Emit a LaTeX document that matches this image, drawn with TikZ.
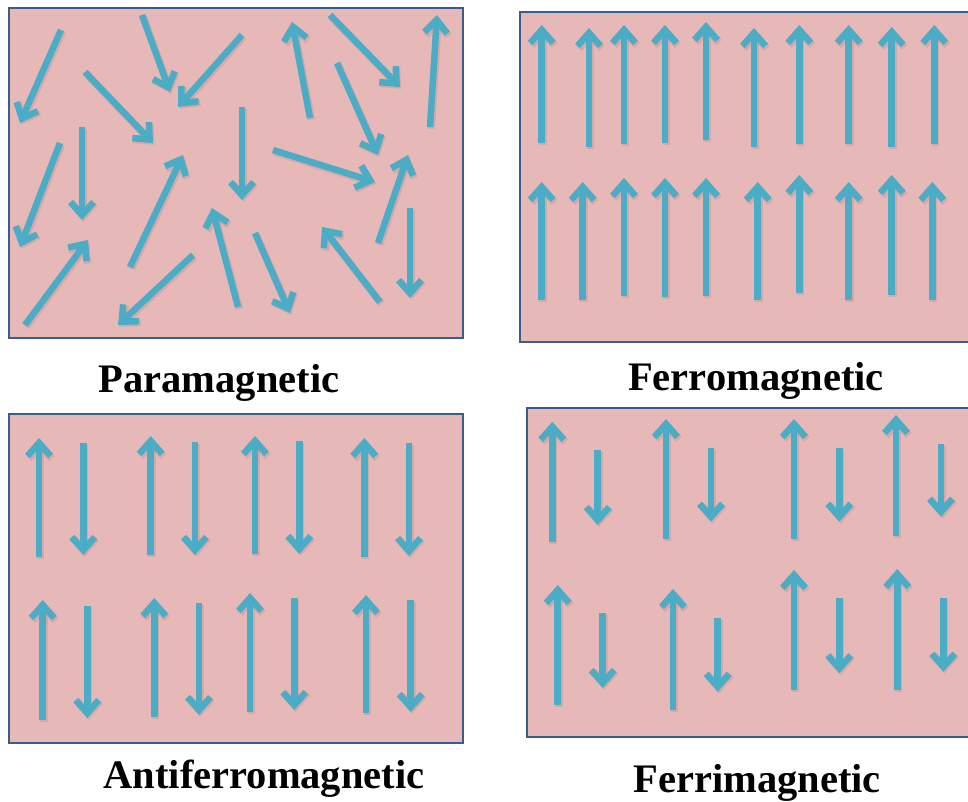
\documentclass[tikz,border=0pt]{standalone}
\usepackage{fontspec}
\setmainfont{Liberation Serif}
\usetikzlibrary{arrows.meta}
\definecolor{panelfill}{RGB}{230,185,184}
\definecolor{panelline}{RGB}{56,93,138}
\definecolor{spinblue}{RGB}{75,172,198}
\definecolor{spinshade}{RGB}{196,140,140}
\tikzset{
  panel/.style={fill=panelfill, draw=panelline, line width=2.6pt},
  spin/.style={draw=spinblue, line width=6.5pt,
    -{Straight Barb[length=13pt, width=23pt, line width=6.5pt]}},
  spinshadow/.style={draw=spinshade, opacity=0.4, line width=7.5pt,
    -{Straight Barb[length=13pt, width=23pt, line width=7.5pt]}},
  caption/.style={anchor=base, font=\fontsize{40.5}{48}\selectfont\bfseries, inner sep=0pt}
}
\newcommand\spinarrow[4]{%
  \draw[spinshadow] ([shift={(1.3,1.8)}]#1,#2) -- ([shift={(1.3,1.8)}]#3,#4);
  \draw[spin] (#1,#2) -- (#3,#4);}
\begin{document}
\begin{tikzpicture}[x=1pt, y=-1pt]
\useasboundingbox (0,0) rectangle (968,802);
\fill[white] (0,0) rectangle (968,802);
% panels
\begin{scope}
\clip (0,0) rectangle (968,802);
\path[panel] (9,8) rectangle (463,338);
\path[panel] (520,12) rectangle (975,342);
\path[panel] (9,414) rectangle (463,743);
\path[panel] (527,408) rectangle (975,737);
\end{scope}
% paramagnetic
\foreach \a/\b/\c/\d in {61/30/20/123, 142/15/170/92, 242/35/178/107, 310/118/292/22,
  330/15/400/87, 430/127/437/15, 85/72/153/143, 337/63/378/155, 242/107/242/200,
  60/143/20/247, 82/127/82/220, 130/267/183/155, 273/150/375/182, 378/243/408/155,
  25/325/88/240, 193/255/118/325, 238/307/212/208, 255/233/290/313, 380/302/322/227,
  410/208/410/298}
  {\spinarrow{\a}{\b}{\c}{\d}}
% ferromagnetic
\foreach \x/\t/\s in {541.7/25/143, 589/28/147, 624/25/144, 665/25/143, 706/22/140,
  754/28/147, 799.3/25/144, 848.7/25/144, 891.7/27/147, 934.3/25/144,
  541.7/182/300, 582.7/182/300, 624/178/296, 665/178/297, 706/178/296,
  757.7/182/300, 799.3/175/293, 848.7/182/300, 891.7/175/295, 932.3/182/300}
  {\spinarrow{\x}{\s}{\x}{\t}}
% antiferromagnetic: up
\foreach \x/\t/\s in {39/438/557, 150.7/436/555, 255/436/554, 364.3/438/557,
  42.7/600/720, 154.3/598/717, 250/593/712, 366/595/713}
  {\spinarrow{\x}{\s}{\x}{\t}}
% antiferromagnetic: down
\foreach \x/\s/\h in {83.3/443/555, 195/442/555, 299.3/441/554, 409/443/556,
  87.3/606/718, 199/603/715, 294.3/598/710, 410.7/600/712}
  {\spinarrow{\x}{\s}{\x}{\h}}
% ferrimagnetic: up
\foreach \x/\t/\s in {552.3/421.7/541.7, 666/419/539, 794/419/539, 896/415/535.7,
  557.7/585/705, 673/589/710, 794/570/690, 897.3/569/690}
  {\spinarrow{\x}{\s}{\x}{\t}}
% ferrimagnetic: down
\foreach \x/\s/\h in {597.7/450/525, 711/447.7/521.7, 839.3/447.7/521.7, 941/444.3/516.7,
  602.7/613/688, 717.7/617.7/691.7, 839.3/597.7/673.3, 943.3/597.7/671.7}
  {\spinarrow{\x}{\s}{\x}{\h}}
% captions
\node[caption] (para) at (219,392) {Paramagnetic};
\node[caption] (ferro) at (756,390) {Ferromagnetic};
\node[caption] (antiferro) at (264,788) {Antiferromagnetic};
\node[caption] (ferri) at (757,792) {Ferrimagnetic};
\end{tikzpicture}
\end{document}
